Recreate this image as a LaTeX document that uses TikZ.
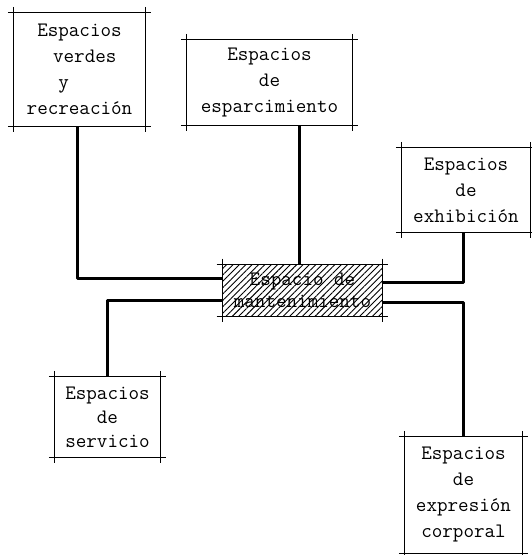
\documentclass[tikz,border=0pt]{standalone}
\usepackage{fontspec}
\usetikzlibrary{patterns.meta}
\newcommand\crossframe[1]{%
  \draw[frameline] ([xshift=-6pt]#1.north west) -- ([xshift=6pt]#1.north east);
  \draw[frameline] ([xshift=-6pt]#1.south west) -- ([xshift=6pt]#1.south east);
  \draw[frameline] ([yshift=6pt]#1.north west) -- ([yshift=-6pt]#1.south west);
  \draw[frameline] ([yshift=6pt]#1.north east) -- ([yshift=-6pt]#1.south east);
}
\begin{document}
\begin{tikzpicture}[x=1pt,y=-1pt,
  frameline/.style={line width=1.3pt, line cap=butt},
  conn/.style={line width=3pt, line join=round},
  room/.style={inner sep=0pt, align=center, text=black,
    font=\ttfamily\fontsize{20.5}{26}\selectfont},
  hatched/.style={pattern={Lines[angle=45,distance=4.5pt,line width=0.9pt]}}]
\useasboundingbox (0,0) rectangle (532,555);

\node[room, minimum width=131pt, minimum height=113pt] (verdes) at (79.5,69.5)
  {Espacios\\ \ verdes\\ y\phantom{xxx}\\ recreación};
\node[room, minimum width=165pt, minimum height=85pt] (esp) at (269.5,82.5)
  {Espacios\\ de\\ esparcimiento};
\node[room, minimum width=128pt, minimum height=84pt] (exh) at (466,190)
  {Espacios\\ de\\ exhibición};
\node[room, minimum width=159pt, minimum height=51pt, hatched,
  font=\ttfamily\fontsize{20.5}{22}\selectfont] (cent) at (302.5,290.5)
  {Espacio de\\ mantenimiento};
\node[room, minimum width=105pt, minimum height=80pt,
  font=\ttfamily\fontsize{20.5}{24}\selectfont] (serv) at (107.5,417)
  {Espacios\\ de\\ servicio};
\node[room, minimum width=117pt, minimum height=116pt] (corp) at (463.5,495)
  {Espacios\\ de\\ expresión\\ corporal};

\crossframe{verdes}
\crossframe{esp}
\crossframe{exh}
\crossframe{cent}
\crossframe{serv}
\crossframe{corp}

\draw[conn] ([xshift=-2.5pt]verdes.south) |- ([yshift=12.5pt]cent.west);
\draw[conn] (serv.north) |- ([yshift=-10pt]cent.west);
\draw[conn] ([xshift=30pt]esp.south) -- ([xshift=30pt]esp.south |- cent.north);
\draw[conn] ([xshift=-3pt]exh.south) |- ([yshift=8pt]cent.east);
\draw[conn] (corp.north) |- ([yshift=-12pt]cent.east);
\end{tikzpicture}
\end{document}
